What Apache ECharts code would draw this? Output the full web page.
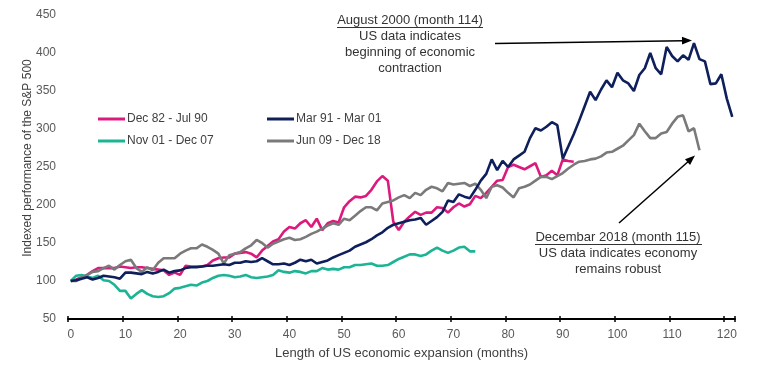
<!DOCTYPE html>
<html>
<head>
<meta charset="utf-8">
<script src="https://cdn.jsdelivr.net/npm/echarts@6/dist/echarts.min.js"></script>
<style>html,body{margin:0;padding:0;background:#fff;}#c{width:757px;height:378px;}</style>
</head>
<body>
<div id="c"></div>
<script>
var months = [0,1,2,3,4,5,6,7,8,9,10,11,12,13,14,15,16,17,18,19,20,21,22,23,24,25,26,27,28,29,30,31,32,33,34,35,36,37,38,39,40,41,42,43,44,45,46,47,48,49,50,51,52,53,54,55,56,57,58,59,60,61,62,63,64,65,66,67,68,69,70,71,72,73,74,75,76,77,78,79,80,81,82,83,84,85,86,87,88,89,90,91,92,93,94,95,96,97,98,99,100,101,102,103,104,105,106,107,108,109,110,111,112,113,114,115,116,117,118,119,120,121];
var seriesNames = ['Dec 82 - Jul 90', 'Mar 91 - Mar 01', 'Nov 01 - Dec 07', 'Jun 09 - Dec 18'];
var dec82_jul90 = [100,102,105,108,113,117,117,117,117,119,118,117,118,118,117,116,115,114,108,111,108,120,119,119,119,121,127,130,131,131,136,137,138,136,131,140,146,152,155,165,171,169,176,180,171,182,167,176,179,177,197,205,211,210,212,220,231,238,232,178,167,178,185,191,187,190,190,197,196,190,197,202,198,201,212,209,216,224,232,233,250,253,250,247,251,255,237,239,245,239,260,258,257];
var mar91_mar01 = [100,101,103,105,102,104,107,106,105,103,111,111,110,109,112,110,112,115,111,113,114,117,118,118,119,120,120,121,122,121,124,124,126,125,126,130,126,122,122,123,121,124,128,126,128,123,125,127,131,134,137,140,145,148,151,155,160,164,170,174,176,178,180,181,183,174,179,184,191,206,204,214,211,209,220,232,241,260,246,258,250,260,265,270,288,301,298,303,309,305,261,277,293,311,330,349,338,352,364,355,374,364,360,350,371,380,400,380,372,408,396,389,397,391,413,392,389,359,360,372,340,316];
var nov01_dec07 = [100,107,108,106,104,107,101,100,95,87,87,77,83,88,83,80,79,80,84,90,91,93,95,94,98,100,104,107,108,107,105,106,108,105,104,105,106,108,114,112,111,113,112,110,113,113,117,115,116,115,118,118,121,121,122,123,120,120,121,125,129,132,135,135,133,135,140,144,140,137,140,144,145,139,139];
var jun09_dec18 = [100,100,104,108,112,113,117,120,115,121,126,128,117,112,118,114,124,130,130,130,136,140,143,143,148,145,141,136,123,134,136,138,143,147,154,150,144,149,152,155,157,154,155,158,162,165,169,173,176,174,182,180,186,192,197,197,193,202,204,206,210,213,209,216,213,220,224,222,218,229,227,228,229,225,228,220,209,224,226,223,216,210,222,224,227,232,237,237,234,238,242,248,253,257,258,260,261,264,269,270,274,278,285,292,307,297,288,288,294,296,307,316,318,297,301,272];
var yTicks = [50,100,150,200,250,300,350,400,450];
var colors = ['#DC1A7E', '#0E1F5B', '#1CB495', '#7A7A7A'];

var FONT = 'Liberation Sans';
var chart = echarts.init(document.getElementById('c'));
var dataSets = [dec82_jul90, mar91_mar01, nov01_dec07, jun09_dec18];
var series = dataSets.map(function (d, k) {
  return {
    name: seriesNames[k], type: 'line', data: d, showSymbol: false, symbol: 'none',
    lineStyle: { width: 2.6, color: colors[k] }, itemStyle: { color: colors[k] },
    z: k === 1 ? 5 : 3
  };
});
var legendPos = [[98, 113], [267, 113], [98, 135], [267, 135]];
var legends = seriesNames.map(function (n, k) {
  return {
    data: [{ name: n, icon: 'rect' }], left: legendPos[k][0], top: legendPos[k][1], padding: 0,
    itemWidth: 27, itemHeight: 3, itemGap: 0, selectedMode: false,
    textStyle: { fontFamily: FONT, fontSize: 12, color: '#404040', padding: [0, 0, 0, -3] }
  };
});
function arrowHead(tip, from, len, half) {
  var dx = tip[0] - from[0], dy = tip[1] - from[1];
  var n = Math.sqrt(dx * dx + dy * dy); dx /= n; dy /= n;
  var bx = tip[0] - len * dx, by = tip[1] - len * dy;
  return [[tip[0], tip[1]], [bx - half * dy, by + half * dx], [bx + half * dy, by - half * dx]];
}
var a1s = [495, 43.5], a1e = [692, 40.5];
var a2s = [619, 223], a2e = [695, 155.5];
function baseOf(tip, from, len) {
  var dx = tip[0] - from[0], dy = tip[1] - from[1];
  var n = Math.sqrt(dx * dx + dy * dy);
  return [tip[0] - len * dx / n, tip[1] - len * dy / n];
}
var annStyle = { fontFamily: FONT, fontSize: 13, fill: '#333', textAlign: 'center' };
function txt(s, x, y) {
  return { type: 'text', x: x, y: y, style: Object.assign({ text: s, textVerticalAlign: 'middle' }, annStyle) };
}
var graphics = [
  txt('August 2000 (month 114)', 410, 20),
  txt('US data indicates', 410, 36),
  txt('beginning of economic', 410, 52),
  txt('contraction', 410, 68),
  { type: 'line', shape: { x1: 337, y1: 27.5, x2: 483, y2: 27.5 }, style: { stroke: '#333', lineWidth: 1 } },
  txt('Decembar 2018 (month 115)', 618, 237),
  txt('US data indicates economy', 618, 253),
  txt('remains robust', 618, 269),
  { type: 'line', shape: { x1: 535, y1: 244.5, x2: 702, y2: 244.5 }, style: { stroke: '#333', lineWidth: 1 } },
  { type: 'line', shape: { x1: a1s[0], y1: a1s[1], x2: baseOf(a1e, a1s, 9)[0], y2: baseOf(a1e, a1s, 9)[1] }, style: { stroke: '#000', lineWidth: 1.5 } },
  { type: 'polygon', shape: { points: arrowHead(a1e, a1s, 10, 3.8) }, style: { fill: '#000' } },
  { type: 'line', shape: { x1: a2s[0], y1: a2s[1], x2: baseOf(a2e, a2s, 9)[0], y2: baseOf(a2e, a2s, 9)[1] }, style: { stroke: '#000', lineWidth: 1.5 } },
  { type: 'polygon', shape: { points: arrowHead(a2e, a2s, 10, 3.8) }, style: { fill: '#000' } }
];
var option = {
  animation: false,
  backgroundColor: '#fff',
  grid: { left: 68, right: 22, top: 15, bottom: 59, containLabel: false },
  legend: legends,
  xAxis: [{
    type: 'category', data: months, boundaryGap: true, position: 'bottom',
    name: 'Length of US economic expansion (months)', nameLocation: 'middle', nameGap: 28,
    nameTextStyle: { fontFamily: FONT, fontSize: 13, color: '#404040' },
    axisLine: { lineStyle: { color: '#000', width: 2 } },
    axisTick: { show: true, interval: 9, alignWithLabel: false, length: 3, lineStyle: { color: '#000', width: 1.5 } },
    axisLabel: { interval: 9, fontFamily: FONT, fontSize: 12, color: '#595959', margin: 10 },
    splitLine: { show: false }
  }, {
    type: 'category', data: months, boundaryGap: true, position: 'bottom', offset: 0,
    axisLine: { show: false },
    axisTick: { show: true, inside: true, interval: 9, alignWithLabel: false, length: 3, lineStyle: { color: '#000', width: 1.5 } },
    axisLabel: { show: false }, splitLine: { show: false }
  }],
  yAxis: {
    type: 'value', min: yTicks[0], max: yTicks[yTicks.length - 1], interval: 50,
    name: 'Indexed performance of the S&P 500', nameLocation: 'middle', nameGap: 34, nameRotate: 90,
    nameMoveOverlap: false,
    nameTextStyle: { fontFamily: FONT, fontSize: 12, color: '#404040', padding: [0, 0, 0, 18] },
    axisLine: { show: false }, axisTick: { show: false }, splitLine: { show: false },
    axisLabel: { fontFamily: FONT, fontSize: 12, color: '#595959', margin: 12 }
  },
  series: series,
  graphic: graphics
};
chart.setOption(option);
</script>
</body>
</html>
